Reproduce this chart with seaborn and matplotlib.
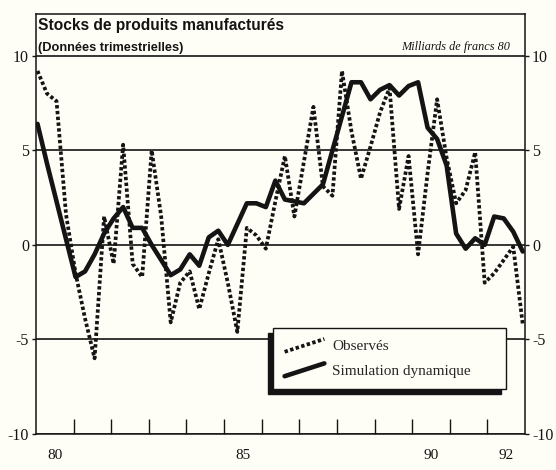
import numpy as np
import pandas as pd
import matplotlib
matplotlib.use("Agg")
import matplotlib.pyplot as plt
import seaborn as sns
from matplotlib.lines import Line2D
from matplotlib.legend_handler import HandlerLine2D

# ---------------- data (quarterly, 1980Q1 .. 1992Q4) ----------------
observes = [9.2, 8.0, 7.6, 1.6, -1.5, -3.9, -6.0, 1.5,
            -1.0, 5.3, -1.0, -1.7, 5.0, 1.5, -4.1, -2.0,
            -1.4, -3.4, -1.5, 0.3, -2.0, -4.6, 0.9, 0.5,
            -0.2, 2.3, 4.7, 1.5, 4.4, 7.3, 3.1, 2.6,
            9.2, 6.0, 3.5, 5.2, 7.0, 8.3, 1.9, 4.7,
            -0.5, 3.8, 7.7, 4.6, 2.2, 2.9, 4.9, -2.0,
            -1.5, -0.8, -0.1, -4.2]
simulation = [6.4, 4.3, 2.3, 0.3, -1.7, -1.4, -0.5, 0.6,
              1.4, 2.0, 0.9, 0.9, 0.0, -0.8, -1.6, -1.3,
              -0.5, -1.1, 0.4, 0.75, 0.0, 1.1, 2.2, 2.2,
              2.0, 3.4, 2.4, 2.3, 2.2, 2.7, 3.2, 5.0,
              6.8, 8.6, 8.6, 7.7, 8.2, 8.45, 7.9, 8.4,
              8.6, 6.2, 5.6, 4.2, 0.6, -0.2, 0.35, 0.0,
              1.5, 1.4, 0.7, -0.35]
series_names = ["Observés", "Simulation dynamique"]
year_label_pos = [1980.5, 1985.5, 1990.5, 1992.5]
year_labels = ["80", "85", "90", "92"]
y_ticks = [-10, -5, 0, 5, 10]

quarters = np.arange(len(observes))
t = 1980.04 + quarters * 12.9 / (len(observes) - 1)

df = pd.concat([
    pd.DataFrame({"t": t, "v": observes, "serie": series_names[0]}),
    pd.DataFrame({"t": t, "v": simulation, "serie": series_names[1]}),
])

# ---------------- style ----------------
sns.set_theme(style="white")
plt.rcParams["font.family"] = ["Liberation Serif", "DejaVu Serif"]
BG = "#fffef6"
INK = "#141414"

fig = plt.figure(figsize=(5.56, 4.70), dpi=100, facecolor=BG)
ax = fig.add_axes([36 / 556, 36 / 470, 489 / 556, 420 / 470], facecolor=BG)

sns.lineplot(data=df, x="t", y="v", hue="serie", style="serie", size="serie",
             hue_order=series_names, style_order=series_names, size_order=series_names,
             palette={series_names[0]: INK, series_names[1]: INK},
             dashes={series_names[0]: (0.9, 0.65), series_names[1]: ""},
             sizes={series_names[0]: 2.7, series_names[1]: 3.3},
             legend=False, ax=ax, zorder=3)

ax.set_xlim(1980, 1993)
ax.set_ylim(-10, 10 + 42 / 19)
ax.set_xlabel("")
ax.set_ylabel("")

for s in ax.spines.values():
    s.set_color(INK)
    s.set_linewidth(1.1)

# y axis: both sides
ax.set_yticks(y_ticks)
ax.set_yticklabels([str(v) for v in y_ticks])
ax.tick_params(axis="y", which="major", left=True, right=True, labelleft=True,
               labelright=True, direction="out", length=3, width=1,
               color=INK, labelsize=11.5, labelcolor=INK, pad=2)
ax.yaxis.grid(True, color=INK, linewidth=1.2)
ax.set_axisbelow(True)

# x axis: year boundary ticks, labels centred in the year
ax.set_xticks(np.arange(1981, 1993), minor=True)
ax.set_xticks(year_label_pos)
ax.set_xticklabels(year_labels)
ax.tick_params(axis="x", which="minor", bottom=True, direction="in", length=11,
               width=1, color=INK)
ax.tick_params(axis="x", which="major", bottom=True, length=0, pad=11,
               labelsize=11, labelcolor=INK)

# title block
ax.text(0.004, 0.962, "Stocks de produits manufacturés", transform=ax.transAxes,
        family="Liberation Sans", weight="bold", fontsize=11.2, color=INK,
        va="baseline", ha="left")
ax.text(0.004, 0.911, "(Données trimestrielles)", transform=ax.transAxes,
        family="Liberation Sans", weight="bold", fontsize=9.2, color=INK,
        va="baseline", ha="left")
ax.text(0.969, 0.914, "Milliards de francs 80", transform=ax.transAxes,
        family="Liberation Serif", style="italic", fontsize=8.8, color=INK,
        va="baseline", ha="right")


class SlantHandler(HandlerLine2D):
    def create_artists(self, legend, orig_handle, xdescent, ydescent,
                       width, height, fontsize, trans):
        x0, y0 = -xdescent, -ydescent
        line = Line2D([x0, x0 + width], [y0 - 0.15 * height, y0 + 1.05 * height])
        self.update_prop(line, orig_handle, legend)
        line.set_transform(trans)
        return [line]


handles = list(ax.lines[:2])
leg = ax.legend(handles=handles, labels=series_names,
                handler_map={Line2D: SlantHandler()},
                loc="lower left", bbox_to_anchor=(0.485, 0.107, 0.477, 0.15),
                mode="expand", borderaxespad=0, frameon=True, fancybox=False,
                shadow={"ox": -3.6, "oy": -3.6, "facecolor": INK,
                        "edgecolor": INK, "alpha": 1},
                fontsize=11, handlelength=2.6, handletextpad=0.5,
                labelspacing=0.7, borderpad=0.75)
leg.get_frame().set_facecolor(BG)
leg.get_frame().set_edgecolor(INK)
leg.get_frame().set_linewidth(1.0)
leg.set_zorder(5)

fig.savefig("out.png", dpi=100, facecolor=BG)
